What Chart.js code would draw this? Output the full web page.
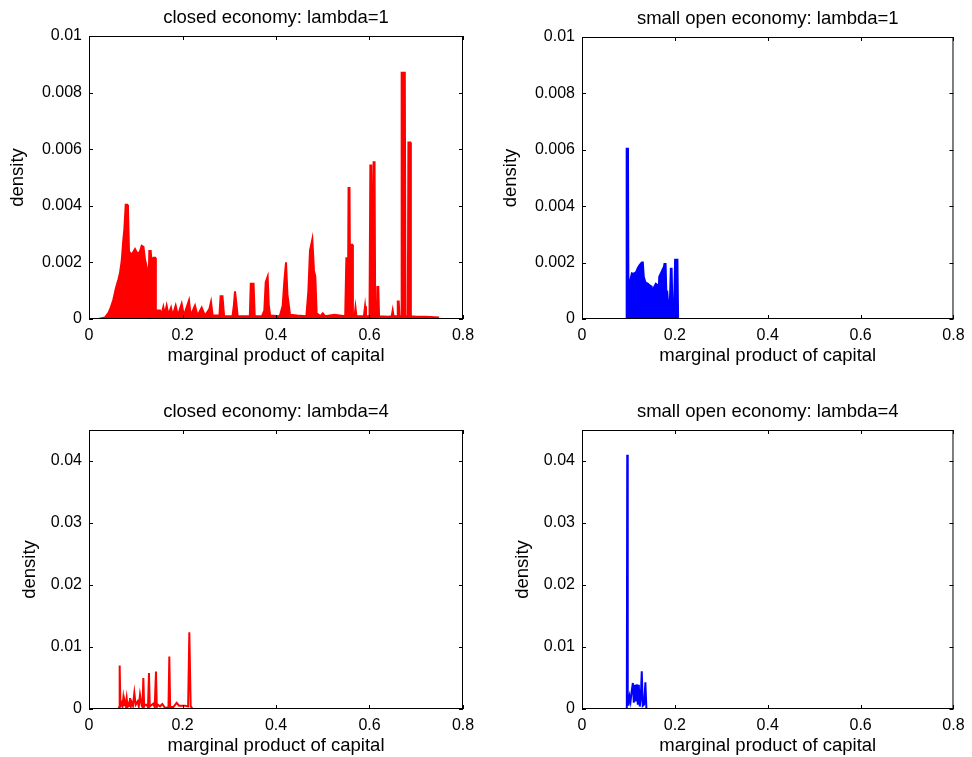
<!DOCTYPE html>
<html>
<head>
<meta charset="utf-8">
<script src="https://cdn.jsdelivr.net/npm/chart.js@4.4.1/dist/chart.umd.min.js"></script>
<style>
  html, body { margin: 0; padding: 0; background: #fff; overflow: hidden; width: 972px; height: 757px; }
  canvas { position: absolute; }
</style>
</head>
<body>
<canvas id="closed1"></canvas>
<canvas id="open1"></canvas>
<canvas id="closed4"></canvas>
<canvas id="open4"></canvas>
<script>
// tick values and labels
const xTicks = [0, 0.2, 0.4, 0.6, 0.8];
const xTickLabels = ['0', '0.2', '0.4', '0.6', '0.8'];
const yTicksL1 = [0, 0.002, 0.004, 0.006, 0.008, 0.01];
const yTickLabelsL1 = ['0', '0.002', '0.004', '0.006', '0.008', '0.01'];
const yTicksL4 = [0, 0.01, 0.02, 0.03, 0.04];
const yTickLabelsL4 = ['0', '0.01', '0.02', '0.03', '0.04'];

// [marginal product of capital, density]
const closedL1 = [
  [0.020, 0], [0.034, 0.00005], [0.0414, 0.00021], [0.0463, 0.00039], [0.052, 0.00068],
  [0.0578, 0.0011], [0.0627, 0.00139], [0.0663, 0.00163], [0.0699, 0.00204], [0.0734, 0.0028],
  [0.0756, 0.00316], [0.0785, 0.00404], [0.0815, 0.00404], [0.0834, 0.00386], [0.0856, 0.00239],
  [0.0913, 0.00227], [0.0984, 0.00247], [0.104, 0.0023], [0.1091, 0.00239], [0.1127, 0.00259],
  [0.1165, 0.00255], [0.1198, 0.0021], [0.1248, 0.00174], [0.1265, 0.0004], [0.129, 0.0024],
  [0.132, 0.0024], [0.1345, 0.0018], [0.1376, 0.00216], [0.1412, 0.00216], [0.143, 0.0003],
  [0.152, 0.0003], [0.155, 0.00015], [0.159, 0.00042], [0.162, 0.00015], [0.1661, 0.00047],
  [0.170, 0.00015], [0.1754, 0.0004], [0.179, 0.00012], [0.1854, 0.00047], [0.190, 0.00012],
  [0.1982, 0.00054], [0.203, 0.00012], [0.2139, 0.00066], [0.2175, 0.00012], [0.2267, 0.00047],
  [0.232, 0.00012], [0.241, 0.0004], [0.248, 0.00012], [0.2575, 0.00035], [0.261, 0.0006],
  [0.2645, 0.00012], [0.279, 0.00012], [0.2815, 0.0008], [0.2855, 0.0008], [0.289, 0.0001],
  [0.307, 0.0001], [0.310, 0.0005], [0.3123, 0.00098], [0.3155, 0.0005], [0.318, 0.0001],
  [0.344, 0.0001], [0.346, 0.00125], [0.352, 0.00125], [0.3545, 0.0001], [0.370, 0.0001],
  [0.375, 0.0003], [0.378, 0.0013], [0.3822, 0.0015], [0.3845, 0.0005], [0.3875, 0.00012],
  [0.408, 0.0001], [0.4143, 0.00047], [0.4178, 0.00133], [0.4214, 0.002], [0.4245, 0.00086],
  [0.430, 0.00015], [0.445, 0.00012], [0.465, 0.0001], [0.4692, 0.00098], [0.4727, 0.00242],
  [0.4777, 0.00281], [0.4813, 0.0017], [0.4841, 0.0015], [0.487, 0.0002], [0.495, 0.0001],
  [0.500, 0.0002], [0.505, 0.0001], [0.525, 0.00015], [0.548, 0.0001], [0.5505, 0.00215],
  [0.5525, 0.00215], [0.5538, 0.0002], [0.5552, 0.00463], [0.5572, 0.00463], [0.5588, 0.0002],
  [0.5608, 0.00262], [0.5628, 0.00262], [0.5645, 0.0001], [0.568, 0.0001], [0.570, 0.0004],
  [0.572, 0.0001], [0.588, 0.0001], [0.5905, 0.00045], [0.5925, 0.0001], [0.600, 0.0001],
  [0.6018, 0.00542], [0.6038, 0.00542], [0.6055, 0.0002], [0.6072, 0.0002], [0.6088, 0.00554],
  [0.6108, 0.00554], [0.6122, 0.0001], [0.616, 0.0001], [0.6168, 0.00113], [0.6188, 0.00113],
  [0.6205, 0.0001], [0.640, 0.00008], [0.6475, 0.0001], [0.6496, 0.0003], [0.6515, 0.0001],
  [0.659, 0.0001], [0.6605, 0.00062], [0.6625, 0.00062], [0.664, 0.0001], [0.6675, 0.0001],
  [0.6688, 0.0087], [0.6755, 0.0087], [0.677, 0.0001], [0.682, 0.0001], [0.6832, 0.00624],
  [0.6872, 0.00624], [0.6885, 0.0001], [0.700, 0.00008], [0.720, 0.00008], [0.749, 0.00005]
];

const openL1 = [
  [0.0206, 0], [0.0955, 0], [0.0962, 0.00604], [0.099, 0.00604], [0.100, 0.0005],
  [0.101, 0.00108], [0.1038, 0.00137], [0.1074, 0.00162], [0.111, 0.0016], [0.1166, 0.00166],
  [0.120, 0.0018], [0.1237, 0.0019], [0.1287, 0.002], [0.131, 0.002], [0.133, 0.0015],
  [0.1365, 0.0013], [0.142, 0.00125], [0.1465, 0.00118], [0.150, 0.00115], [0.1515, 0.0003],
  [0.1528, 0.001], [0.1545, 0.0011], [0.159, 0.00125], [0.163, 0.0012], [0.1645, 0.0008],
  [0.1664, 0.0015], [0.1721, 0.0017], [0.1735, 0.0009], [0.1749, 0.0017], [0.1775, 0.00195],
  [0.180, 0.00195], [0.1815, 0.001], [0.1835, 0.00098], [0.1863, 0.0004], [0.189, 0.00045],
  [0.1913, 0.00178], [0.193, 0.00178], [0.1948, 0.0004], [0.1984, 0.0005], [0.2005, 0.0021],
  [0.2055, 0.0021], [0.207, 0], [0.7531, 0]
];

const closedL4 = [
  [0.020, 0], [0.0627, 0], [0.0645, 0.0003], [0.0656, 0.00702], [0.0672, 0.0005],
  [0.0699, 0.00097], [0.0716, 0.0004], [0.0734, 0.00177], [0.0752, 0.0006], [0.077, 0.00107],
  [0.0788, 0.0005], [0.0806, 0.00172], [0.0825, 0.0004], [0.0841, 0.00086], [0.0858, 0.0005],
  [0.0877, 0.00177], [0.0895, 0.0004], [0.0913, 0.00107], [0.094, 0.0005], [0.097, 0.00257],
  [0.0998, 0.0007], [0.1041, 0.00123], [0.1065, 0.0004], [0.1091, 0.0023], [0.1127, 0.00054],
  [0.1145, 0.0003], [0.1162, 0.005], [0.118, 0.0004], [0.1198, 0.0007], [0.1234, 0.0007],
  [0.1262, 0.0003], [0.1283, 0.0058], [0.130, 0.0004], [0.1319, 0.00054], [0.1376, 0.00086],
  [0.1405, 0.0003], [0.1433, 0.00606], [0.145, 0.0003], [0.1469, 0.0007], [0.1519, 0.00043],
  [0.1569, 0.0008], [0.1626, 0.00016], [0.170, 0.0003], [0.1718, 0.00847], [0.1736, 0.0003],
  [0.1754, 0.00032], [0.1804, 0.00032], [0.1875, 0.001], [0.1925, 0.00054], [0.2053, 0.00054],
  [0.212, 0.0004], [0.2146, 0.01239], [0.2175, 0.0004], [0.2189, 0.00032], [0.221, 0],
  [0.7472, 0]
];

const openL4 = [
  [0.0206, 0], [0.0965, 0], [0.0974, 0.041], [0.0985, 0.0007], [0.1003, 0.0007],
  [0.1024, 0.002], [0.1045, 0.0012], [0.1067, 0.0027], [0.1095, 0.0042], [0.1116, 0.001],
  [0.1138, 0.0039], [0.1159, 0.0012], [0.118, 0.004], [0.1202, 0.0007], [0.1223, 0.0039],
  [0.1244, 0.0004], [0.1266, 0.0018], [0.1287, 0.0061], [0.1308, 0.0005], [0.1337, 0.0007],
  [0.1365, 0.0043], [0.1387, 0], [0.7495, 0]
];

const FONT = "'Liberation Sans', Arial, Helvetica, sans-serif";
const TICK_SIZE = 16;
const LABEL_SIZE = 18.5;

// MATLAB-like box with inward tick marks on all four sides
const matlabAxes = {
  id: 'matlabAxes',
  afterDatasetsDraw(chart) {
    const { ctx, chartArea: a, scales: { x, y } } = chart;
    const len = 4;
    ctx.save();
    ctx.strokeStyle = '#000';
    ctx.lineWidth = 1;
    ctx.beginPath();
    x.ticks.forEach(t => {
      const px = Math.round(x.getPixelForValue(t.value)) + 0.5;
      ctx.moveTo(px, a.bottom); ctx.lineTo(px, a.bottom - len);
      ctx.moveTo(px, a.top); ctx.lineTo(px, a.top + len);
    });
    y.ticks.forEach(t => {
      const py = Math.round(y.getPixelForValue(t.value)) + 0.5;
      ctx.moveTo(a.left, py); ctx.lineTo(a.left + len, py);
      ctx.moveTo(a.right, py); ctx.lineTo(a.right - len, py);
    });
    ctx.stroke();
    ctx.strokeRect(a.left + 0.5, a.top + 0.5, a.width - 1, a.height - 1);
    ctx.restore();
  }
};

function drawPanel(id, box, series, color, filled, yMax, yTicks, yLabels, title, yTitleCenter, rightPad) {
  const cv = document.getElementById(id);
  const w = box.right - box.left, h = box.bottom - box.top;
  cv.width = 89 + w + rightPad;
  cv.height = 36 + h + 60;
  cv.style.left = (box.left - 89) + 'px';
  cv.style.top = (box.top - 36) + 'px';

  const tickLH = TICK_SIZE * 1.2, labLH = LABEL_SIZE * 1.2;

  new Chart(cv, {
    type: 'line',
    data: {
      datasets: [{
        data: series.map(p => ({ x: p[0], y: p[1] })),
        borderColor: color,
        backgroundColor: color,
        borderWidth: 2,
        pointRadius: 0,
        tension: 0,
        fill: filled ? 'origin' : false
      }]
    },
    options: {
      responsive: false,
      animation: false,
      devicePixelRatio: 1,
      layout: { padding: { left: 0, top: 0, right: rightPad, bottom: 0 } },
      plugins: {
        legend: { display: false },
        tooltip: { enabled: false },
        title: {
          display: true,
          fullSize: false,
          text: title,
          color: '#000',
          font: { family: FONT, size: LABEL_SIZE, weight: 'normal' },
          padding: { top: 18 - labLH / 2, bottom: 18 - labLH / 2 }
        }
      },
      scales: {
        x: {
          type: 'linear',
          min: 0, max: 0.8,
          grid: { display: false, drawTicks: false },
          border: { display: false },
          afterBuildTicks: s => { s.ticks = xTicks.map(v => ({ value: v })); },
          afterFit: s => { s.height = 60; },
          ticks: {
            autoSkip: false,
            maxRotation: 0,
            color: '#000',
            padding: 17 - tickLH / 2,
            font: { family: FONT, size: TICK_SIZE },
            callback: (v, i) => xTickLabels[i]
          },
          title: {
            display: true,
            text: 'marginal product of capital',
            color: '#000',
            font: { family: FONT, size: LABEL_SIZE },
            padding: { top: 0, bottom: 23 - labLH / 2 }
          }
        },
        y: {
          min: 0, max: yMax,
          grid: { display: false, drawTicks: false },
          border: { display: false },
          afterBuildTicks: s => { s.ticks = yTicks.map(v => ({ value: v })); },
          afterFit: s => { s.width = 89; },
          ticks: {
            color: '#000',
            padding: 7,
            font: { family: FONT, size: TICK_SIZE },
            callback: (v, i) => yLabels[i]
          },
          title: {
            display: true,
            text: 'density',
            color: '#000',
            font: { family: FONT, size: LABEL_SIZE },
            padding: { top: yTitleCenter - labLH / 2, bottom: 0 }
          }
        }
      }
    },
    plugins: [matlabAxes]
  });
}

drawPanel('closed1', { left: 89, top: 36, right: 463, bottom: 319 }, closedL1, '#ff0000', true,
  0.01, yTicksL1, yTickLabelsL1, 'closed economy: lambda=1', 18, 30);
drawPanel('open1', { left: 582, top: 37, right: 957, bottom: 319 }, openL1, '#0000ff', true,
  0.01, yTicksL1, yTickLabelsL1, 'small open economy: lambda=1', 18, 15);
drawPanel('closed4', { left: 89, top: 430, right: 463, bottom: 709 }, closedL4, '#ff0000', false,
  0.045, yTicksL4, yTickLabelsL4, 'closed economy: lambda=4', 30, 30);
drawPanel('open4', { left: 582, top: 430, right: 957, bottom: 709 }, openL4, '#0000ff', false,
  0.045, yTicksL4, yTickLabelsL4, 'small open economy: lambda=4', 30, 15);
</script>
</body>
</html>
